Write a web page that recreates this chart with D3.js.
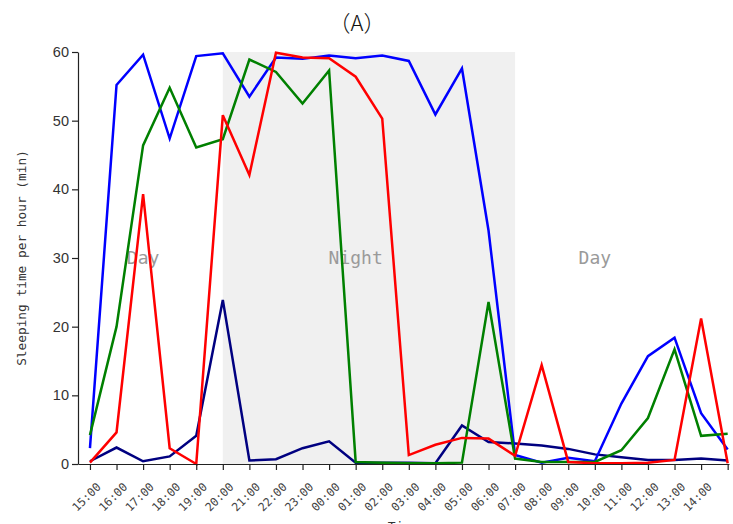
<!DOCTYPE html>
<html>
<head>
<meta charset="utf-8">
<script src="https://cdn.jsdelivr.net/npm/d3@7"></script>
<style>
  body { margin: 0; background: #fff; }
  svg { display: block; }
</style>
</head>
<body>
<div id="chart"></div>
<script>
//Datos
const horas = ['15:00','16:00','17:00','18:00','19:00','20:00','21:00','22:00','23:00','00:00','01:00','02:00',
  '03:00','04:00','05:00','06:00','07:00','08:00','09:00','10:00','11:00','12:00','13:00','14:00',''];

const serieAzul = [2.3, 55.2, 59.6, 47.4, 59.4, 59.8, 53.5, 59.2, 59.0, 59.5, 59.1, 59.5,
  58.7, 50.9, 57.6, 34, 1.3, 0.2, 0.9, 0.4, 8.8, 15.7, 18.4, 7.4, 2.1];
const serieVerde = [4.2, 20.0, 46.4, 54.8, 46.1, 47.3, 58.9, 57.1, 52.5, 57.3, 0.3, 0.2,
  0.1, 0.1, 0.2, 23.6, 0.8, 0.3, 0.3, 0.3, 2.0, 6.7, 16.7, 4.1, 4.4];
const serieRoja = [0.2, 4.6, 39.3, 2.3, 0.0, 50.8, 42.1, 59.9, 59.2, 59.1, 56.4, 50.3,
  1.3, 2.8, 3.8, 3.7, 1.2, 14.4, 0.3, 0.1, 0.1, 0.2, 0.6, 21.2, 0.1];
const serieMarino = [0.4, 2.4, 0.4, 1.1, 4.1, 23.9, 0.5, 0.7, 2.3, 3.3, 0.2, 0.2,
  0.2, 0.1, 5.6, 3.2, 3.0, 2.7, 2.2, 1.4, 1.0, 0.6, 0.6, 0.8, 0.5];

const yTicks = [0, 10, 20, 30, 40, 50, 60];
const franjas = [{label: 'Day', at: 2}, {label: 'Night', at: 10}, {label: 'Day', at: 19}];
const noche = [5, 16];

//Colores fijos
const COLOR_AZUL = '#0000ff', COLOR_VERDE = '#008000', COLOR_ROJO = '#ff0000', COLOR_MARINO = '#000080';

const W = 733, H = 524;
let margin = {top: 52, right: 4, bottom: 60, left: 78};

let svg = d3.select('#chart').append('svg')
  .attr('width', W).attr('height', H);

//Escalas
let x = d3.scaleLinear()
  .domain([-0.45, 24.05])
  .range([margin.left, W - margin.right]);

let y = d3.scaleLinear()
  .domain([0, 60])
  .range([H - margin.bottom, margin.top]);

//Fondo noche
svg.append('rect')
  .attr('x', x(noche[0]))
  .attr('y', y(60))
  .attr('width', x(noche[1]) - x(noche[0]))
  .attr('height', y(0) - y(60))
  .attr('fill', '#f0f0f0');

//Textos Day / Night
svg.selectAll('.franja')
  .data(franjas)
  .enter()
  .append('text')
  .attr('class', 'franja')
  .attr('x', d => x(d.at))
  .attr('y', y(30))
  .attr('dy', '0.35em')
  .attr('text-anchor', 'middle')
  .style('font-family', '"DejaVu Sans Mono", monospace')
  .style('font-size', '18px')
  .style('fill', '#9a9a9a')
  .text(d => d.label);

//Líneas
let linea = d3.line()
  .x((d, i) => x(i))
  .y(d => y(d));

let series = [
  {vals: serieMarino, color: COLOR_MARINO},
  {vals: serieAzul, color: COLOR_AZUL},
  {vals: serieVerde, color: COLOR_VERDE},
  {vals: serieRoja, color: COLOR_ROJO}
];

svg.selectAll('.serie')
  .data(series)
  .enter()
  .append('path')
  .attr('class', 'serie')
  .attr('d', d => linea(d.vals))
  .attr('fill', 'none')
  .attr('stroke', d => d.color)
  .attr('stroke-width', 2.5)
  .attr('stroke-linejoin', 'miter');

//Eje X
let xAxis = d3.axisBottom(x)
  .tickValues(d3.range(horas.length))
  .tickFormat(i => horas[i])
  .tickSize(6)
  .tickSizeOuter(0);

let gx = svg.append('g')
  .attr('transform', 'translate(0,' + y(0) + ')')
  .call(xAxis);

gx.select('.domain').attr('stroke', '#222').attr('stroke-width', 1.2);
gx.selectAll('.tick line').attr('stroke', '#222').attr('stroke-width', 1.2);
gx.selectAll('.tick text')
  .attr('text-anchor', 'middle')
  .attr('dy', '0.35em')
  .attr('y', 0)
  .attr('transform', 'translate(-4,33) rotate(-45)')
  .style('font-family', '"DejaVu Sans Mono", monospace')
  .style('font-size', '11.5px')
  .style('fill', '#444');

//Eje Y
let yAxis = d3.axisLeft(y)
  .tickValues(yTicks)
  .tickSize(6)
  .tickSizeOuter(0);

let gy = svg.append('g')
  .attr('transform', 'translate(' + margin.left + ',0)')
  .call(yAxis);

gy.select('.domain').attr('stroke', '#222').attr('stroke-width', 1.2);
gy.selectAll('.tick line').attr('stroke', '#222').attr('stroke-width', 1.2);
gy.selectAll('.tick text')
  .attr('x', -9)
  .style('font-family', '"Liberation Sans", Arial, sans-serif')
  .style('font-size', '14.5px')
  .style('fill', '#333');

//Títulos de ejes
svg.append('text')
  .attr('transform', 'translate(26,' + ((y(0) + y(60)) / 2) + ') rotate(-90)')
  .attr('text-anchor', 'middle')
  .style('font-family', '"DejaVu Sans Mono", monospace')
  .style('font-size', '12.8px')
  .style('fill', '#333')
  .text('Sleeping time per hour (min)');

svg.append('text')
  .attr('x', (x.range()[0] + x.range()[1]) / 2)
  .attr('y', 531)
  .attr('text-anchor', 'middle')
  .style('font-family', '"DejaVu Sans Mono", monospace')
  .style('font-size', '13px')
  .style('fill', '#333')
  .text('Time');

//Título
svg.append('text')
  .attr('x', 357)
  .attr('y', 31)
  .attr('text-anchor', 'middle')
  .style('font-family', '"Noto Sans CJK SC", sans-serif')
  .style('font-size', '22px')
  .style('font-weight', 300)
  .style('fill', '#111')
  .text('（A）');
</script>
</body>
</html>
